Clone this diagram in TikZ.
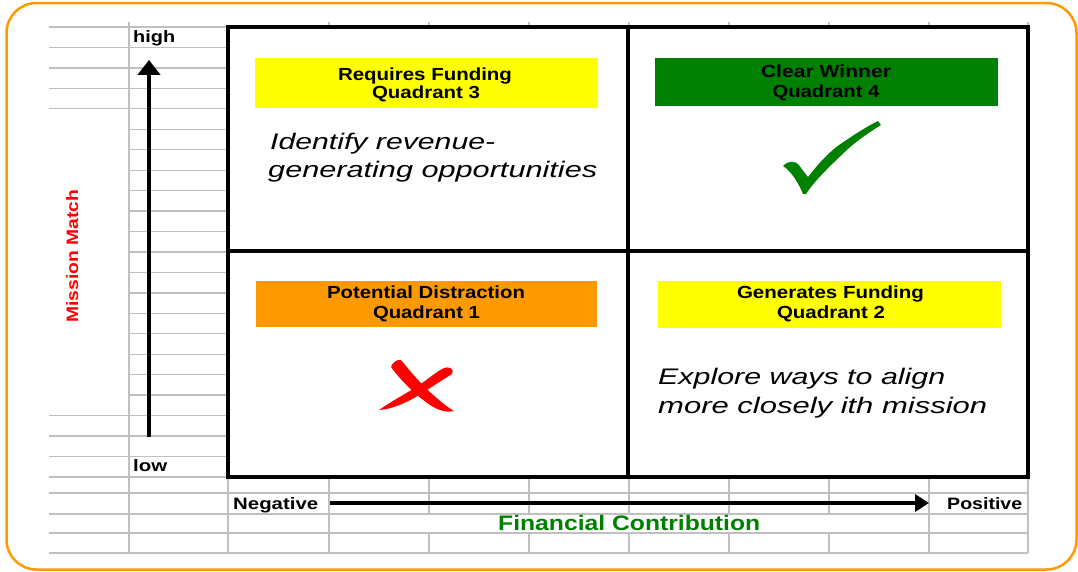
\documentclass[tikz,border=0pt]{standalone}
\usepackage{fontspec}
\setmainfont{Liberation Sans}
\usepackage{graphicx}
\usetikzlibrary{arrows.meta}
\definecolor{gridgray}{HTML}{C0C0C0}
\definecolor{frameorange}{HTML}{FF9900}
\definecolor{qyellow}{HTML}{FFFF00}
\definecolor{qgreen}{HTML}{008000}
\definecolor{qorange}{HTML}{FF9900}
\definecolor{mred}{HTML}{FF0000}
\newcommand{\sw}[2]{\resizebox{#1pt}{\height}{#2}}
\begin{document}
\begin{tikzpicture}[x=1pt,y=-1pt,
  gridline/.style={draw=gridgray, line width=1.3pt},
  quadline/.style={draw=black, line width=3.5pt},
  lbl/.style={inner sep=0pt, anchor=base},
  lblw/.style={inner sep=0pt, anchor=base west},
  tagbox/.style={inner sep=0pt, draw=none},
  tagfont/.style={font=\fontsize{17.5}{20}\selectfont\bfseries},
  axisfont/.style={font=\fontsize{16.5}{19}\selectfont\bfseries},
  notefont/.style={font=\fontsize{22.5}{26}\selectfont\itshape},
  axisarrow/.style={line width=4pt, -{Triangle[width=#1]}},
]
\useasboundingbox (0,0) rectangle (1078,571);
% outer frame
\draw[frameorange, line width=2.5pt, rounded corners=30pt] (6.5,3) rectangle (1076.5,569.5);

% spreadsheet grid: horizontal lines
\foreach \k in {0,...,4,19,20,21,22}
  \draw[gridline] (49,{27+\k*20.45}) -- (228,{27+\k*20.45});
\foreach \k in {5,...,18}
  \draw[gridline] (129,{27+\k*20.45}) -- (228,{27+\k*20.45});
\foreach \yy in {493,514,533,553}
  \draw[gridline] (49,\yy) -- (1028,\yy);
\draw[gridline] (228,477) -- (1028,477);
% vertical lines
\draw[gridline] (129,22) -- (129,553);
\draw[gridline] (228,477) -- (228,553);
\foreach \xx in {329,929,1028}
  \draw[gridline] (\xx,22) -- (\xx,553);
\foreach \xx in {429,529,629,729,829}{
  \draw[gridline] (\xx,22) -- (\xx,514);
  \draw[gridline] (\xx,533) -- (\xx,553);
}

% quadrant area
\fill[white] (228,27) rectangle (1028,477);
\coordinate (qnw) at (228,27);
\coordinate (qse) at (1028,477);
\coordinate (midt) at (628,27);
\coordinate (midb) at (628,477);
\coordinate (midl) at (228,251);
\coordinate (midr) at (1028,251);
\draw[quadline] (qnw) rectangle (qse);
\draw[quadline] (midt) -- (midb);
\draw[quadline] (midl) -- (midr);

% quadrant tags
\node[tagbox, fill=qyellow, minimum width=343pt, minimum height=50pt] (q3box) at (426.5,83) {};
\node[tagbox, fill=qgreen, minimum width=343pt, minimum height=48pt] (q4box) at (826.5,82) {};
\node[tagbox, fill=qorange, minimum width=341pt, minimum height=46pt] (q1box) at (426.5,304) {};
\node[tagbox, fill=qyellow, minimum width=343pt, minimum height=47pt] (q2box) at (829.5,304.5) {};

\node[lbl, tagfont] (q3a) at (425,80) {\sw{174}{Requires Funding}};
\node[lbl, tagfont] (q3b) at (426,98) {\sw{108}{Quadrant 3}};
\node[lbl, tagfont] (q4a) at (826,77) {\sw{130}{Clear Winner}};
\node[lbl, tagfont] (q4b) at (826,97) {\sw{107}{Quadrant 4}};
\node[lbl, tagfont] (q1a) at (426,298) {\sw{198}{Potential Distraction}};
\node[lbl, tagfont] (q1b) at (426.5,318) {\sw{107}{Quadrant 1}};
\node[lbl, tagfont] (q2a) at (830.5,298) {\sw{187}{Generates Funding}};
\node[lbl, tagfont] (q2b) at (831,318) {\sw{108}{Quadrant 2}};

% notes
\node[lblw, notefont] (n3a) at (270,149) {\sw{225}{Identify revenue-}};
\node[lblw, notefont] (n3b) at (268,177.5) {\sw{329}{generating opportunities}};
\node[lblw, notefont] (n2a) at (658,384) {\sw{287}{Explore ways to align}};
\node[lblw, notefont] (n2b) at (658,413) {\sw{329}{more closely ith mission}};

% check mark
\fill[qgreen] (783,166) .. controls (788,160.5) and (794,161) .. (798,164)
  -- (808,177) .. controls (815,168) and (828,152) .. (842,143)
  .. controls (855,134) and (868,126) .. (878,121)
  -- (881,125) .. controls (868,133) and (857,141) .. (849,148)
  .. controls (833,163) and (815,180) .. (806,194)
  -- (803,194) .. controls (798,182) and (791,171) .. cycle;

% cross
\fill[mred] (391,367) .. controls (392,363) and (397,359) .. (401,360)
  .. controls (410,371) and (420,383) .. (431,393)
  .. controls (440,401) and (447,407) .. (454,411)
  .. controls (446,413) and (438,410) .. (430,405)
  .. controls (417,396) and (402,382) .. cycle;
\fill[mred] (379,410) .. controls (392,401) and (405,394) .. (418,386)
  .. controls (428,379) and (436,372) .. (444,368)
  .. controls (449,366) and (455,369) .. (452,374)
  .. controls (444,379) and (433,386) .. (424,392)
  .. controls (410,401) and (394,409) .. cycle;

% axes
\coordinate (ylow) at (149,437);
\coordinate (yhigh) at (149,60);
\draw[axisarrow=22pt] (ylow) -- (yhigh);
\coordinate (xneg) at (330,503);
\coordinate (xpos) at (929,503);
\draw[line width=4pt, -{Triangle[width=17pt,length=14pt]}] (xneg) -- (xpos);

\node[lblw, axisfont] (high) at (133,42) {\sw{42}{high}};
\node[lblw, axisfont] (low) at (133,471) {\sw{34}{low}};
\node[lblw, axisfont] (neg) at (233,509) {\sw{85}{Negative}};
\node[lblw, axisfont] (pos) at (947,509) {\sw{75}{Positive}};
\node[lblw, font=\fontsize{21}{24}\selectfont\bfseries, text=qgreen] (fin) at (498,530.5) {\sw{262}{Financial Contribution}};
\node[inner sep=0pt, anchor=base, rotate=90, font=\fontsize{16.5}{19}\selectfont\bfseries, text=mred] (mm) at (78,256) {\sw{133}{Mission Match}};
\end{tikzpicture}
\end{document}
